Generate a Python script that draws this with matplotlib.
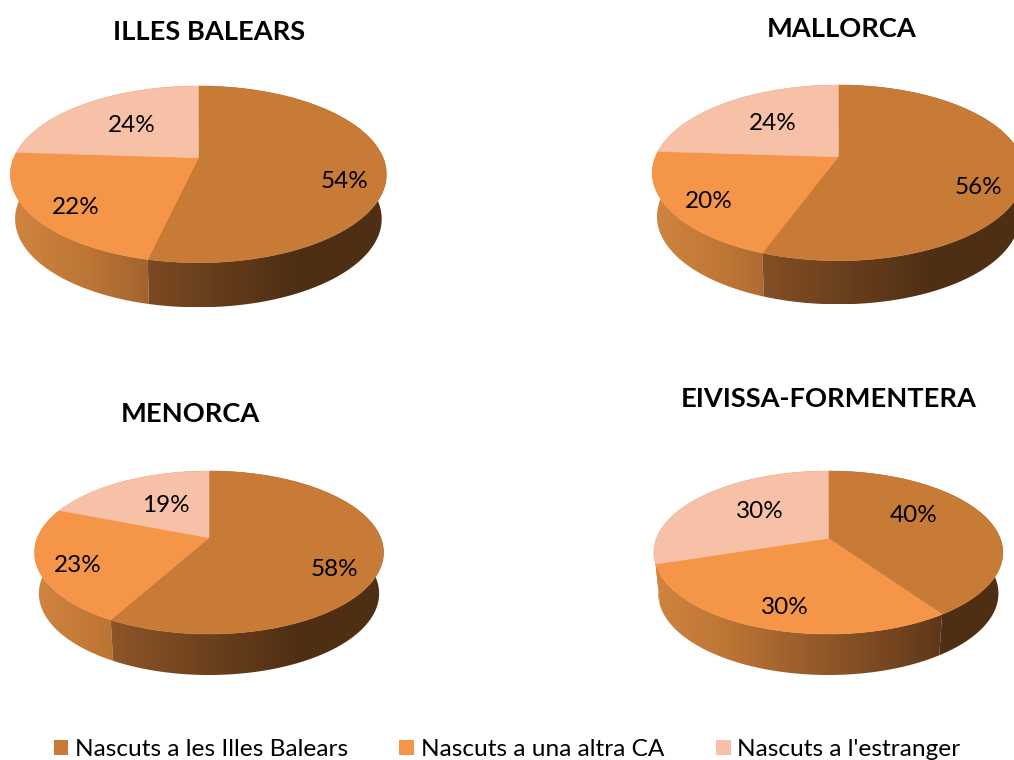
import numpy as np
import matplotlib
matplotlib.use("Agg")
import matplotlib.pyplot as plt
from matplotlib.colors import LinearSegmentedColormap
from matplotlib.patches import Patch, Polygon

plt.rcParams['font.family'] = ['Lato', 'DejaVu Sans']

# dades
titles = ["ILLES BALEARS", "MALLORCA", "MENORCA", "EIVISSA-FORMENTERA"]
categories = ["Nascuts a les Illes Balears", "Nascuts a una altra CA", "Nascuts a l'estranger"]
balears = [53.6, 22.4, 24]
mallorca = [55.6, 20.4, 24]
menorca = [58, 23, 19]
eivissa = [40.4, 29.6, 30]
series = [balears, mallorca, menorca, eivissa]

# colors
top_colors = ["#C87A37", "#F59547", "#F6C1A6"]
side_brown = LinearSegmentedColormap.from_list(
    "brown", [(0, "#96592B"), (0.2, "#8F5629"), (0.75, "#4F2F14"), (1, "#4F2F14")])
side_orange = LinearSegmentedColormap.from_list(
    "orange", [(0, "#D08540"), (0.2, "#BE7636"), (0.36, "#A5642F"), (0.85, "#5A3518"), (1, "#4F2F14")])
side_cmaps = [side_brown, side_orange, side_orange]

# posicions en píxels: centre x, dalt, àpex, baix, radi x, alçada
shapes = [
    (198.4, 86.0, 157.7, 262.7, 188.0, 44.6),
    (838.3, 85.0, 156.7, 260.7, 186.0, 43.6),
    (209.0, 471.0, 537.7, 634.0, 174.5, 41.0),
    (828.3, 471.0, 538.3, 634.0, 174.5, 41.0),
]
BASE_SHRINK = 0.975  # la base es veu una mica més estreta
title_pos = [(209, 32), (842, 29), (190, 414), (829, 399)]
label_pos = [
    [(345, 181), (76, 207), (132, 125)],
    [(978, 187), (709, 201), (773, 123)],
    [(334, 569), (78, 565), (166, 505)],
    [(914, 515), (785, 607), (760, 511)],
]


def project(theta, shape):
    """Angle (clockwise from 12 o'clock) -> punt de la vora, amb perspectiva."""
    cx, top, apex, bottom, rx, _ = shape
    back = apex - top
    front = bottom - apex
    p = (front - back) / (front + back)
    v = back * (1 + p)
    r = rx * np.sqrt(1 - p * p)
    x, y = np.sin(theta), np.cos(theta)
    w = 1 + p * y
    return cx + r * x / w, apex - v * y / w


def draw_pie(ax, values, shape, labels_xy):
    cx, top, apex, bottom, rx, depth = shape
    edges = np.cumsum([0] + values) / sum(values) * 2 * np.pi

    # costat, de l'últim al primer
    for i in reversed(range(len(values))):
        th = np.linspace(edges[i], edges[i + 1], 200)
        x, y = project(th, shape)
        base_x = cx + (x - cx) * BASE_SHRINK
        pts = np.vstack([np.column_stack([x, y]),
                         np.column_stack([base_x[::-1], y[::-1] + depth])])
        clip = Polygon(pts, closed=True, transform=ax.transData, fc="none", ec="none")
        ax.add_patch(clip)
        grad = np.linspace(0, 1, 256).reshape(1, -1)
        im = ax.imshow(grad, cmap=side_cmaps[i], aspect="auto", vmin=0, vmax=1,
                       extent=(cx - rx, cx + rx, bottom + depth, top), zorder=2)
        im.set_clip_path(clip)

    # cara de dalt
    for i in range(len(values)):
        th = np.linspace(edges[i], edges[i + 1], 200)
        x, y = project(th, shape)
        pts = np.vstack([[cx, apex], np.column_stack([x, y])])
        ax.add_patch(Polygon(pts, closed=True, fc=top_colors[i], ec=top_colors[i],
                             lw=0.4, zorder=3))

    for v, (lx, ly) in zip(values, labels_xy):
        ax.text(lx, ly, f"{v:.0f}%", ha="center", va="center", fontsize=17.5,
                color="black", zorder=4)


fig = plt.figure(figsize=(10.14, 7.6), dpi=100)
ax = fig.add_axes([0, 0, 1, 1])

for k in range(4):
    draw_pie(ax, series[k], shapes[k], label_pos[k])
    ax.text(title_pos[k][0], title_pos[k][1], titles[k], ha="center", va="center",
            fontsize=19.6, fontweight="bold", color="black", zorder=4)

ax.set_xlim(0, 1014)
ax.set_ylim(760, 0)
ax.axis("off")

handles = [Patch(fc=c, ec="none") for c in top_colors]
ax.legend(handles, categories, ncol=3, frameon=False, fontsize=17.6,
          loc="lower left", bbox_to_anchor=(53.5 / 1014, 0.0), bbox_transform=ax.transAxes,
          borderpad=0, borderaxespad=0, handlelength=0.61, handleheight=0.61,
          handletextpad=0.28, columnspacing=2.09, labelcolor="black")

fig.savefig("out.png", dpi=100)
